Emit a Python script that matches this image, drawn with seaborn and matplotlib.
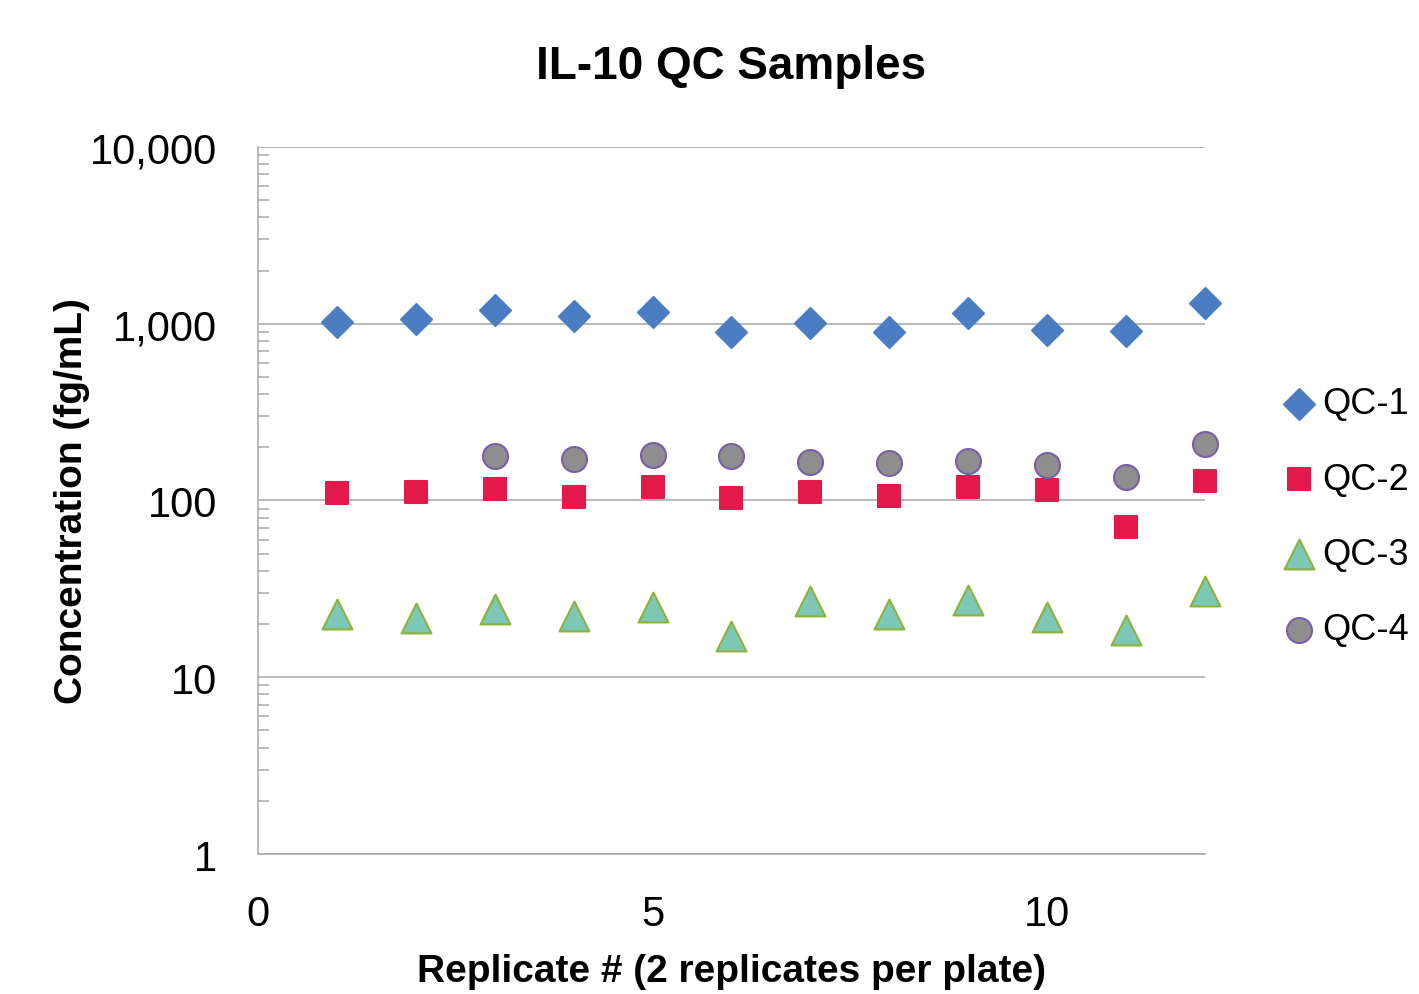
import matplotlib
matplotlib.use("Agg")
import matplotlib.pyplot as plt
import matplotlib.ticker as mticker
import seaborn as sns
import pandas as pd

replicates = list(range(1, 13))
qc1 = [1023, 1064, 1196, 1106, 1165, 898, 1010, 898, 1143, 922, 904, 1310]
qc2 = [110, 112, 116, 105, 119, 103, 112, 106, 119, 115, 71, 129]
qc3 = [22.8, 21.6, 24.3, 22.2, 25.0, 17.1, 27.0, 22.8, 27.4, 21.9, 18.5, 30.8]
qc4_reps = list(range(3, 13))
qc4 = [178, 172, 181, 178, 165, 163, 167, 159, 136, 209]

y_ticks = [1, 10, 100, 1000, 10000]
x_labelled = [0, 5, 10]

sns.set_theme(style="white")
plt.rcParams["font.family"] = ["Liberation Sans", "DejaVu Sans"]
plt.rcParams["text.color"] = "black"
plt.rcParams["axes.labelcolor"] = "black"

fig = plt.figure(figsize=(14.19, 9.95), dpi=100)
ax = fig.add_axes([0.1818, 0.1407, 0.6674, 0.7106])

series = [
    ("QC-1", replicates, qc1, "D", 15.8, "#4A7DC2", "#4A7DC2"),
    ("QC-2", replicates, qc2, "s", 16.5, "#E2194A", "#E2194A"),
    ("QC-3", replicates, qc3, "^", 21.5, "#7CC7B6", "#8DB33A"),
    ("QC-4", qc4_reps, qc4, "o", 18.0, "#8E8E8E", "#7B5EA8"),
]
for name, xs, ys, mk, ms, fc, ec in series:
    df = pd.DataFrame({"x": xs, "y": ys})
    sns.scatterplot(data=df, x="x", y="y", ax=ax, marker=mk, s=ms ** 2,
                    color=fc, edgecolor=ec, linewidth=1.5, label=name,
                    zorder=3, clip_on=False)

ax.set_yscale("log")
ax.set_ylim(1, 10000)
ax.set_xlim(0, 12)
ax.yaxis.set_major_locator(mticker.FixedLocator(y_ticks))
ax.yaxis.set_major_formatter(mticker.FuncFormatter(lambda v, p: f"{v:,.0f}"))
ax.yaxis.set_minor_locator(mticker.LogLocator(base=10, subs=range(2, 10), numticks=20))
ax.yaxis.set_minor_formatter(mticker.NullFormatter())
ax.xaxis.set_major_locator(mticker.MultipleLocator(1))
ax.xaxis.set_major_formatter(mticker.FuncFormatter(lambda v, p: f"{int(round(v))}" if int(round(v)) in x_labelled else ""))

gray = "#A6A6A6"
ax.grid(axis="y", which="major", color=gray, linewidth=1.1)
ax.grid(axis="x", visible=False)
for s in ["top", "right"]:
    ax.spines[s].set_visible(False)
for s in ["left", "bottom"]:
    ax.spines[s].set_color(gray)
    ax.spines[s].set_linewidth(1.1)

ax.tick_params(axis="y", which="major", direction="out", length=9.5, width=1.1,
               color=gray, labelsize=30, pad=20, labelcolor="black")
ax.tick_params(axis="y", which="minor", direction="in", length=8, width=1.1, color=gray, left=True)
ax.tick_params(axis="x", which="major", direction="out", length=7.5, width=1.1,
               color=gray, labelsize=30, pad=21, labelcolor="black")

ax.set_xlabel("Replicate # (2 replicates per plate)", fontsize=28, fontweight="bold", labelpad=14)
ax.set_ylabel("Concentration (fg/mL)", fontsize=28, fontweight="bold", labelpad=0)
ax.set_title("IL-10 QC Samples", fontsize=33, fontweight="bold", pad=50)

ax.legend(frameon=False, loc="center left", bbox_to_anchor=(1.061, 0.477),
          fontsize=26, handlelength=1.2, handletextpad=0.05, labelspacing=1.12,
          borderaxespad=0)

fig.savefig("out.png", dpi=100)
